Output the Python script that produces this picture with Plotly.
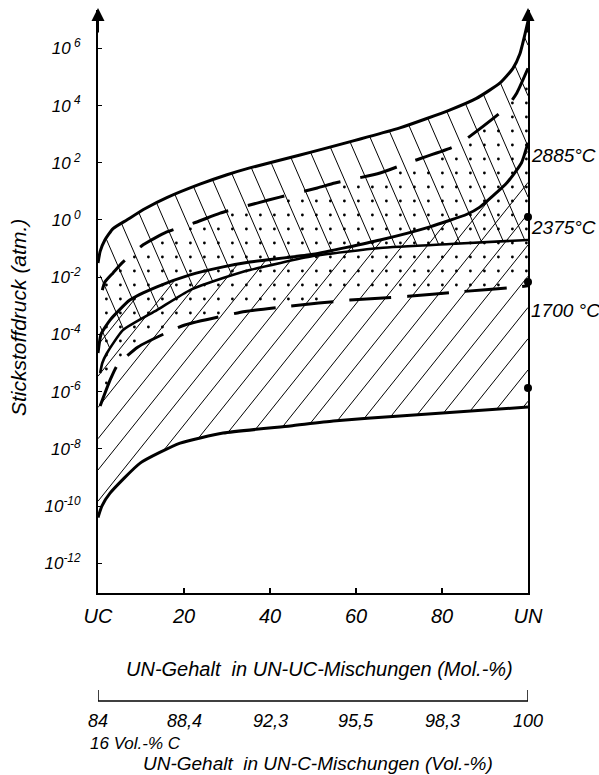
import numpy as np
import plotly.graph_objects as go

# ---------------- data (mol-% UN, log10 of nitrogen pressure in atm) ----------------
mol_A = [0, 0.5, 1.6, 3.5, 6.7, 11, 16, 23.7, 30, 35.3, 47, 70.2, 81.9, 88, 93.5, 96.5, 98.1, 99.3, 100]
exp_A = [-1.5, -1.1, -0.7, -0.3, 0.0, 0.4, 0.78, 1.25, 1.58, 1.82, 2.27, 3.22, 3.85, 4.25, 4.79, 5.3, 5.8, 6.5, 6.95]

mol_B = [1.0, 1.6, 3.5, 5.6, 10.5, 16, 23, 28.4, 37, 42.3, 51, 55.1, 65.6, 71.9, 82.6, 85.8, 95.1, 97.4, 100]
exp_B = [-2.45, -2.17, -1.85, -1.5, -0.87, -0.42, -0.07, 0.24, 0.59, 0.8, 1.12, 1.29, 1.64, 1.99, 2.55, 2.85, 3.95, 4.44, 5.3]

mol_C = [0, 0.7, 2.8, 7.4, 13.7, 21.4, 29.1, 35.3, 50, 65.6, 77.2, 85.8, 88.8, 95.1, 98.5, 100]
exp_C = [-4.65, -4.0, -3.5, -2.8, -2.34, -1.92, -1.64, -1.47, -1.2, -0.7, -0.24, 0.2, 0.45, 1.3, 2.0, 2.7]

mol_D = [0.5, 1.0, 2.1, 5.8, 13.7, 21.4, 29.1, 35.3, 50, 65.6, 81.9, 100]
exp_D = [-5.35, -5.0, -4.65, -3.85, -3.15, -2.45, -2.03, -1.75, -1.26, -0.98, -0.84, -0.7]

mol_E = [0, 0.9, 2.8, 9.8, 19.1, 29.1, 44.7, 54.7, 70.2, 100]
exp_E = [-10.4, -10.0, -9.55, -8.5, -7.8, -7.45, -7.2, -7.03, -6.85, -6.54]

mol_F = [0.5, 2.8, 4.4, 9.3, 20.2, 34.2, 44, 58.6, 72.1, 84.9, 97, 100]
exp_F = [-6.5, -5.6, -5.1, -4.44, -3.67, -3.2, -3.02, -2.8, -2.67, -2.5, -2.35, -2.3]

dot_mol = [100, 100, 100]
dot_exp = [0.1, -2.17, -5.87]

x_ticks = [0, 20, 40, 60, 80, 100]
x_ticktext = ["UC", "20", "40", "60", "80", "UN"]
vol_ticktext = ["84", "88,4", "92,3", "95,5", "98,3", "100"]
y_exps = [6, 4, 2, 0, -2, -4, -6, -8, -10, -12]
temp_labels = ["2885\u00b0C", "2375\u00b0C", "1700\u00a0\u00b0C"]

# ---------------- layout geometry ----------------
W, H = 599, 775
ML, MR, MT, MB = 98, 71, 10, 182
YR = [-13.04, 7.34]
PW, PH = W - ML - MR, H - MT - MB
PXU = PW / 100.0
PXV = PH / (YR[1] - YR[0])

FONT = dict(family="Liberation Sans, Arial, sans-serif", color="black", style="italic")

uu = np.linspace(0, 100, 4001)


def interp(mu, ev):
    return np.interp(uu, mu, ev, left=np.nan, right=np.nan)


def hatch(up_m, up_e, lo_m, lo_e, slope_px, spacing_px):
    up = interp(up_m, up_e)
    lo = interp(lo_m, lo_e)
    k = -slope_px * PXU / PXV
    valid = ~np.isnan(up) & ~np.isnan(lo)
    c_hi = np.nanmax(np.where(valid, up - k * uu, np.nan))
    c_lo = np.nanmin(np.where(valid, lo - k * uu, np.nan))
    step = abs(k) * spacing_px / PXU
    xs, ys = [], []
    c = c_lo - (c_lo % step)
    while c <= c_hi:
        lv = c + k * uu
        inside = valid & (lv <= np.nan_to_num(up, nan=-99)) & (lv >= np.nan_to_num(lo, nan=99))
        idx = np.where(inside)[0]
        if idx.size > 1:
            breaks = np.where(np.diff(idx) > 1)[0]
            starts = np.concatenate([[idx[0]], idx[breaks + 1]])
            ends = np.concatenate([idx[breaks], [idx[-1]]])
            for s, e in zip(starts, ends):
                if e > s:
                    xs += [uu[s], uu[e], None]
                    ys += [10 ** lv[s], 10 ** lv[e], None]
        c += step
    return xs, ys


def dots(up_m, up_e, lo_m, lo_e, spacing_px):
    du = spacing_px / PXU
    dv = spacing_px / PXV
    gu = np.arange(du * 0.6, 100, du)
    gv = np.arange(YR[0], YR[1], dv)
    up = np.interp(gu, up_m, up_e, left=np.nan, right=np.nan)
    lo = np.interp(gu, lo_m, lo_e, left=np.nan, right=np.nan)
    xs, ys = [], []
    for i, u in enumerate(gu):
        if np.isnan(up[i]) or np.isnan(lo[i]):
            continue
        for v in gv:
            if lo[i] + 0.12 < v < up[i] - 0.12:
                xs.append(u)
                ys.append(10 ** v)
    return xs, ys


fig = go.Figure()

# hatching "\" between A and D
hx, hy = hatch(mol_A, exp_A, mol_D, exp_D, 2.3, 22)
fig.add_trace(go.Scatter(x=hx, y=hy, mode="lines", line=dict(color="black", width=1), hoverinfo="skip"))
# hatching "/" between C and E
hx, hy = hatch(mol_C, exp_C, mol_E, exp_E, -1.25, 25)
fig.add_trace(go.Scatter(x=hx, y=hy, mode="lines", line=dict(color="black", width=1), hoverinfo="skip"))
# dots between B and F
dx, dy = dots(mol_B, exp_B, mol_F, exp_F, 14)
fig.add_trace(go.Scatter(x=dx, y=dy, mode="markers", marker=dict(color="black", size=2.8), hoverinfo="skip"))


def p(ev):
    return [10 ** e for e in ev]


fig.add_trace(go.Scatter(x=mol_A, y=p(exp_A), mode="lines", line=dict(color="black", width=3, shape="spline", smoothing=0.5)))
fig.add_trace(go.Scatter(x=mol_B, y=p(exp_B), mode="lines", line=dict(color="black", width=3, dash="38px,20px", shape="spline", smoothing=0.5)))
fig.add_trace(go.Scatter(x=mol_C, y=p(exp_C), mode="lines", line=dict(color="black", width=3, shape="spline", smoothing=0.5)))
fig.add_trace(go.Scatter(x=mol_D, y=p(exp_D), mode="lines", line=dict(color="black", width=2.6, shape="spline", smoothing=0.5)))
fig.add_trace(go.Scatter(x=mol_E, y=p(exp_E), mode="lines", line=dict(color="black", width=3, shape="spline", smoothing=0.5)))
fig.add_trace(go.Scatter(x=mol_F, y=p(exp_F), mode="lines", line=dict(color="black", width=3, dash="42px,16px", shape="spline", smoothing=0.5)))
fig.add_trace(go.Scatter(x=dot_mol, y=p(dot_exp), mode="markers", marker=dict(color="black", size=8), cliponaxis=False))


def py2paper(py):
    return (MT + PH - py) / PH


def px2paper(px):
    return (px - ML) / PW


ann = []
# axis arrows
for xp in [0, 1]:
    ann.append(dict(x=xp, y=1.0 + 2 / PH, xref="paper", yref="paper", ax=0, ay=26, text="",
                    showarrow=True, arrowhead=2, arrowsize=1.3, arrowwidth=2, arrowcolor="black"))
# y title
ann.append(dict(x=px2paper(18), y=py2paper(318), xref="paper", yref="paper", text="Stickstoffdruck (atm.)",
                xanchor="center", yanchor="middle",
                textangle=-90, showarrow=False, font=dict(FONT, size=21)))
# temperature labels
for lab, py in zip(temp_labels, [155, 227, 310]):
    ann.append(dict(x=1.0, y=py2paper(py), xref="paper", yref="paper", text=lab, xanchor="left", yanchor="middle",
                    xshift=1, showarrow=False, font=dict(FONT, size=19)))
# x title
ann.append(dict(x=px2paper(319), y=py2paper(669), xref="paper", yref="paper", xanchor="center", yanchor="middle",
                text="UN-Gehalt\u00a0\u00a0in UN-UC-Mischungen (Mol.-%)", showarrow=False, font=dict(FONT, size=20)))
# second scale labels
for xv, t in zip(x_ticks, vol_ticktext):
    ann.append(dict(x=xv, y=py2paper(721), xref="x", yref="paper", text=t, xanchor="center", yanchor="middle",
                    showarrow=False, font=dict(FONT, size=18)))
ann.append(dict(x=px2paper(88), y=py2paper(743), xref="paper", yref="paper", text="16 Vol.-% C", xanchor="left",
                yanchor="middle", showarrow=False, font=dict(FONT, size=17)))
ann.append(dict(x=px2paper(318), y=py2paper(763), xref="paper", yref="paper", xanchor="center", yanchor="middle",
                text="UN-Gehalt\u00a0\u00a0in UN-C-Mischungen (Vol.-%)", showarrow=False, font=dict(FONT, size=19)))

shapes = [
    dict(type="line", xref="x", yref="paper", x0=0, x1=100, y0=py2paper(701), y1=py2paper(701),
         line=dict(color="black", width=1.5)),
    dict(type="line", xref="x", yref="paper", x0=0, x1=0, y0=py2paper(701), y1=py2paper(690),
         line=dict(color="black", width=1.5)),
    dict(type="line", xref="x", yref="paper", x0=100, x1=100, y0=py2paper(701), y1=py2paper(690),
         line=dict(color="black", width=1.5)),
]

y_ticktext = ["10<sup>\u00a0%d</sup>" % e if e >= 0 else "10<sup>-%d</sup>" % (-e) for e in y_exps]

fig.update_layout(
    width=W, height=H, autosize=False,
    margin=dict(l=ML, r=MR, t=MT, b=MB, pad=0),
    paper_bgcolor="white", plot_bgcolor="white",
    showlegend=False,
    font=dict(FONT, size=16),
    annotations=ann, shapes=shapes,
    xaxis=dict(range=[0, 100], tickvals=x_ticks, ticktext=x_ticktext, showline=True, linecolor="black",
               linewidth=2, ticks="inside", ticklen=5, tickwidth=1.5, tickcolor="black", showgrid=False,
               zeroline=False, tickfont=dict(FONT, size=20), ticklabelstandoff=4),
    yaxis=dict(type="log", range=YR, tickvals=[10 ** e for e in y_exps], ticktext=y_ticktext,
               showline=True, mirror=True, linecolor="black", linewidth=2, ticks="inside", ticklen=4,
               tickcolor="black", showgrid=False, zeroline=False, tickfont=dict(FONT, size=17),
               ticklabelstandoff=12),
)

fig.write_html("out.html")
